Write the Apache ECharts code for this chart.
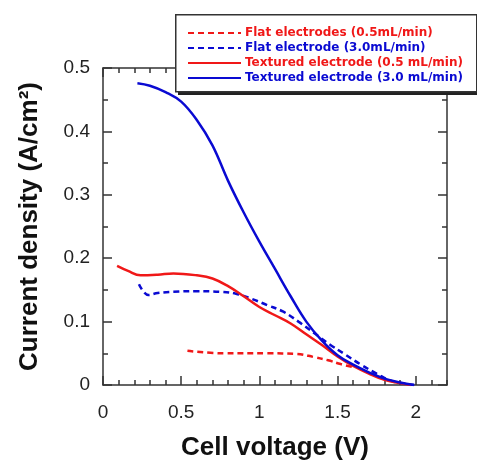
<!DOCTYPE html>
<html>
<head>
<meta charset="utf-8">
<script src="https://cdn.jsdelivr.net/npm/echarts@6/dist/echarts.min.js"></script>
<style>
  html, body { margin: 0; padding: 0; background: #fff; }
  #chart { width: 477px; height: 460px; }
</style>
</head>
<body>
<div id="chart"></div>
<script>
// series names (legend)
var names = [
    'Flat electrodes (0.5mL/min)',
    'Flat electrode (3.0mL/min)',
    'Textured electrode (0.5 mL/min)',
    'Textured electrode (3.0 mL/min)'
];
// cell voltage (V) / current density (A/cm2)
var flat05V = [0.54, 0.77, 1.05, 1.24, 1.35, 1.44, 1.52, 1.60];
var flat05C = [0.054, 0.050, 0.050, 0.049, 0.044, 0.039, 0.033, 0.028];

var flat30V = [0.23, 0.29, 0.35, 0.45, 0.60, 0.75, 0.85, 0.95, 1.05, 1.15, 1.25, 1.35, 1.45, 1.55, 1.65, 1.75, 1.85, 1.99];
var flat30C = [0.159, 0.142, 0.145, 0.147, 0.148, 0.147, 0.144, 0.136, 0.126, 0.116, 0.100, 0.082, 0.064, 0.048, 0.032, 0.018, 0.006, 0.0];

var tex05V = [0.09, 0.16, 0.24, 0.35, 0.45, 0.60, 0.70, 0.80, 0.90, 1.00, 1.10, 1.20, 1.30, 1.40, 1.50, 1.60, 1.70, 1.80, 1.90, 1.97];
var tex05C = [0.188, 0.180, 0.173, 0.174, 0.176, 0.173, 0.168, 0.156, 0.140, 0.123, 0.110, 0.097, 0.080, 0.063, 0.045, 0.030, 0.018, 0.008, 0.003, 0.0];

var tex30V = [0.22, 0.30, 0.40, 0.50, 0.60, 0.70, 0.80, 0.90, 1.00, 1.10, 1.20, 1.30, 1.40, 1.50, 1.60, 1.70, 1.80, 1.90, 1.99];
var tex30C = [0.476, 0.472, 0.462, 0.447, 0.418, 0.378, 0.322, 0.272, 0.226, 0.183, 0.140, 0.100, 0.070, 0.047, 0.032, 0.020, 0.010, 0.004, 0.0];

var RED = '#f01818';
var BLUE = '#0a0ad2';

function pairs(xs, ys){
    var out = [];
    for (var i = 0; i < xs.length; i++) out.push([xs[i], ys[i]]);
    return out;
}

var FRAME = '#333';
var labelFont = 'Liberation Sans, Arial, sans-serif';
var gridBox = { left: 103, right: 30, top: 68, bottom: 75, outerBoundsMode: 'none', containLabel: false };

// grid 0 carries the frame, major ticks and labels; grid 1 (same box) only the minor ticks
function xAx(grid, pos, interval, len, labels, line){
    return {
        type: 'value', gridIndex: grid, position: pos, min: 0, max: 2.2, interval: interval,
        axisLine: { show: line, onZero: false, lineStyle: { color: FRAME, width: 1.5 } },
        axisTick: { show: true, inside: true, length: len, lineStyle: { color: FRAME, width: 1.5 } },
        axisLabel: labels ? {
            show: true, margin: 18, fontSize: 19, color: '#222', fontFamily: labelFont,
            showMaxLabel: false,
            formatter: function(v){ return String(v); }
        } : { show: false },
        splitLine: { show: false }
    };
}
function yAx(grid, pos, interval, len, labels, line){
    return {
        type: 'value', gridIndex: grid, position: pos, min: 0, max: 0.5, interval: interval,
        axisLine: { show: line, onZero: false, lineStyle: { color: FRAME, width: 1.5 } },
        axisTick: { show: true, inside: true, length: len, lineStyle: { color: FRAME, width: 1.5 } },
        axisLabel: labels ? {
            show: true, margin: 13, fontSize: 19, color: '#222', fontFamily: labelFont,
            padding: [3, 0, 0, 0],
            formatter: function(v){ return String(v); }
        } : { show: false },
        splitLine: { show: false }
    };
}

var xMain = xAx(0, 'bottom', 0.5, 9, true, true);
xMain.name = 'Cell voltage (V)';
xMain.nameLocation = 'middle';
xMain.nameGap = 50;
xMain.nameTextStyle = { fontSize: 26, fontWeight: 'bold', color: '#111', fontFamily: labelFont };

var yMain = yAx(0, 'left', 0.1, 9, true, true);
yMain.name = 'Current density (A/cm\u00b2)';
yMain.nameLocation = 'middle';
yMain.nameGap = 60;
yMain.nameTextStyle = { fontSize: 26, fontWeight: 'bold', color: '#111', fontFamily: labelFont };

function line(name, xs, ys, color, dashed){
    return {
        name: name, type: 'line', data: pairs(xs, ys),
        xAxisIndex: 0, yAxisIndex: 0,
        symbol: 'none', smooth: 0.4,
        lineStyle: { color: color, width: 2.5, type: dashed ? [6, 4] : 'solid' },
        itemStyle: { color: color },
        z: 3
    };
}

var chart = echarts.init(document.getElementById('chart'), null, { renderer: 'canvas' });
chart.setOption({
    animation: false,
    backgroundColor: '#fff',
    grid: [gridBox, gridBox],
    xAxis: [
        xMain,
        xAx(0, 'top', 0.5, 9, false, true),
        xAx(1, 'bottom', 0.1, 5, false, false),
        xAx(1, 'top', 0.1, 5, false, false)
    ],
    yAxis: [
        yMain,
        yAx(0, 'right', 0.1, 9, false, true),
        yAx(1, 'left', 0.05, 5, false, false),
        yAx(1, 'right', 0.05, 5, false, false)
    ],
    graphic: [
        { type: 'rect', left: 178, top: 17, z: 10, shape: { width: 310, height: 78 }, style: { fill: '#222' } },
        { type: 'rect', left: 175, top: 14, z: 11, shape: { width: 301, height: 77 }, style: { fill: '#fff', stroke: '#333', lineWidth: 1.5 } }
    ],
    legend: {
        orient: 'vertical', left: 187, top: 27, padding: 0, z: 20,
        itemWidth: 53, itemHeight: 14, itemGap: 3,
        itemStyle: { opacity: 0 },
        textStyle: { fontSize: 12, fontWeight: 'bold', fontFamily: 'DejaVu Sans, sans-serif', padding: [0, 0, 0, -1] },
        data: [
            { name: names[0], textStyle: { color: RED } },
            { name: names[1], textStyle: { color: BLUE } },
            { name: names[2], textStyle: { color: RED } },
            { name: names[3], textStyle: { color: BLUE } }
        ]
    },
    series: [
        line(names[0], flat05V, flat05C, RED, true),
        line(names[1], flat30V, flat30C, BLUE, true),
        line(names[2], tex05V, tex05C, RED, false),
        line(names[3], tex30V, tex30C, BLUE, false)
    ]
});
</script>
</body>
</html>
